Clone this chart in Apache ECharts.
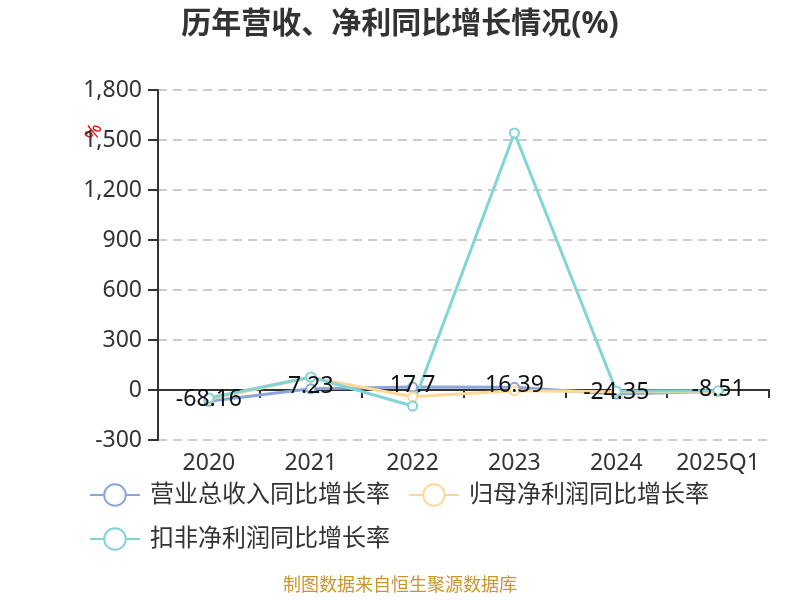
<!DOCTYPE html>
<html>
<head>
<meta charset="utf-8">
<script src="https://cdn.jsdelivr.net/npm/echarts@6/dist/echarts.min.js"></script>
<style>html,body{margin:0;padding:0;background:#fff}#main{width:800px;height:600px}</style>
</head>
<body>
<div id="main"></div>
<script>
var categories = ['2020', '2021', '2022', '2023', '2024', '2025Q1'];
var revenueGrowth = [-68.16, 7.23, 17.7, 16.39, -24.35, -8.51];
var netProfitGrowth = [-55, 75, -40, -5, -10, -10];
var deductedProfitGrowth = [-48, 78, -96, 1542, -6, -5];
var seriesNames = ['营业总收入同比增长率', '归母净利润同比增长率', '扣非净利润同比增长率'];

var FONT = "'Noto Sans', 'Noto Sans CJK SC', sans-serif";
var chart = echarts.init(document.getElementById('main'));
chart.setOption({
  backgroundColor: '#fff',
  title: {
    text: '历年营收、净利同比增长情况(%)',
    left: 'center',
    top: 4,
    textStyle: { fontSize: 30, fontWeight: 'bold', color: '#333', fontFamily: FONT }
  },
  legend: {
    data: seriesNames,
    left: 84,
    top: 477,
    width: 640,
    itemWidth: 50,
    itemHeight: 27,
    itemGap: 18,
    textStyle: { fontSize: 24, color: '#333', lineHeight: 26, fontFamily: FONT, padding: [0, 0, 0, 5] }
  },
  grid: { left: 158, right: 31, top: 90, bottom: 160, containLabel: false },
  xAxis: {
    type: 'category',
    data: categories,
    boundaryGap: true,
    axisLine: { onZero: true, lineStyle: { color: '#333', width: 2 } },
    axisTick: { show: true, length: 8, lineStyle: { color: '#333', width: 2 } },
    axisLabel: { interval: 0, margin: 12, fontSize: 23, color: '#333', fontFamily: FONT }
  },
  yAxis: {
    type: 'value',
    min: -300,
    max: 1800,
    interval: 300,
    axisLine: { show: true, lineStyle: { color: '#333', width: 2 } },
    axisTick: { show: true, length: 10, lineStyle: { color: '#333', width: 2 } },
    axisLabel: { margin: 16, fontSize: 23, color: '#333', fontFamily: FONT,
      formatter: function (v) { return v.toLocaleString('en-US'); } },
    splitLine: { show: true, lineStyle: { color: '#ccc', width: 2, type: [9, 6] } }
  },
  series: [
    {
      name: seriesNames[0], type: 'line', data: revenueGrowth,
      symbol: 'emptyCircle', symbolSize: 9,
      lineStyle: { width: 3, color: '#8BA6DA' },
      itemStyle: { color: '#8BA6DA', borderWidth: 2 },
      label: { show: true, position: 'inside', offset: [0, -2], fontSize: 23, color: '#111', fontFamily: FONT }
    },
    {
      name: seriesNames[1], type: 'line', data: netProfitGrowth,
      symbol: 'emptyCircle', symbolSize: 9,
      lineStyle: { width: 3, color: '#FFD796' },
      itemStyle: { color: '#FFD796', borderWidth: 2 }
    },
    {
      name: seriesNames[2], type: 'line', data: deductedProfitGrowth,
      symbol: 'emptyCircle', symbolSize: 9,
      lineStyle: { width: 3, color: '#82D4D6' },
      itemStyle: { color: '#82D4D6', borderWidth: 2 }
    }
  ],
  graphic: [{
    type: 'text',
    x: 94, y: 132,
    rotation: 1.2,
    style: { text: '%', fill: '#e00', fontSize: 19, fontFamily: FONT, textAlign: 'center', textVerticalAlign: 'middle' }
  }, {
    type: 'text',
    left: 'center',
    top: 577,
    style: { text: '制图数据来自恒生聚源数据库', fill: '#C9952C', fontSize: 18, fontFamily: FONT }
  }]
});
</script>
</body>
</html>
